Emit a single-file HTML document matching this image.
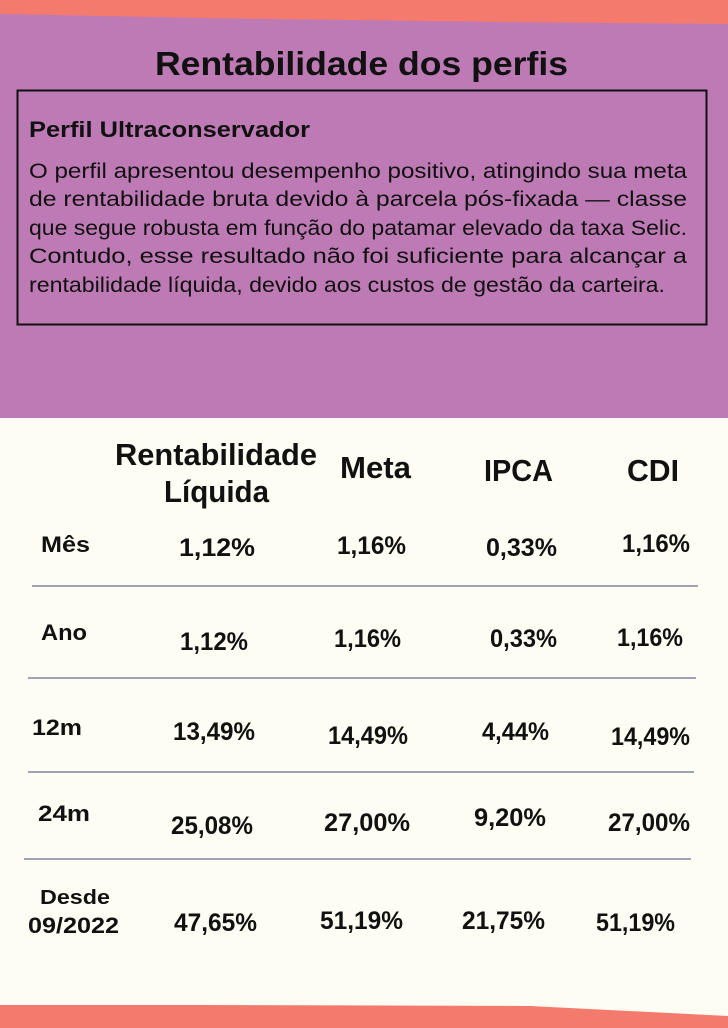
<!DOCTYPE html>
<html><head><meta charset="utf-8"><style>
html,body{margin:0;padding:0;width:728px;height:1028px;overflow:hidden;background:#fdfdf3}
svg{display:block}
text{font-family:"Liberation Sans",sans-serif;fill:#111}
.b{font-weight:bold}
</style></head><body>
<svg width="728" height="1028" viewBox="0 0 728 1028" xmlns="http://www.w3.org/2000/svg">
<rect x="0" y="0" width="728" height="418" fill="#bd7ab4"/>
<polygon points="0,0 728,0 728,24 500,22 200,18 0,14" fill="#f47a6e"/>
<rect x="0" y="418" width="728" height="610" fill="#fdfdf3"/>
<polygon points="0,1023 0,1005 200,1005 530,1006 728,1016 728,1028" fill="#f47a6e"/>
<rect x="0" y="1020" width="728" height="8" fill="#f47a6e"/>

<text class="b" x="155" y="75" font-size="33" textLength="413" lengthAdjust="spacingAndGlyphs">Rentabilidade dos perfis</text>
<rect x="17.5" y="90.5" width="689" height="234" fill="none" stroke="#111" stroke-width="2"/>
<text class="b" x="29" y="137" font-size="22" textLength="281" lengthAdjust="spacingAndGlyphs">Perfil Ultraconservador</text>
<g font-size="21">
<text x="29" y="178" textLength="658" lengthAdjust="spacingAndGlyphs">O perfil apresentou desempenho positivo, atingindo sua meta</text>
<text x="29" y="206" textLength="658" lengthAdjust="spacingAndGlyphs">de rentabilidade bruta devido à parcela pós-fixada — classe</text>
<text x="29" y="235" textLength="658" lengthAdjust="spacingAndGlyphs">que segue robusta em função do patamar elevado da taxa Selic.</text>
<text x="29" y="263" textLength="658" lengthAdjust="spacingAndGlyphs">Contudo, esse resultado não foi suficiente para alcançar a</text>
<text x="29" y="292" textLength="636" lengthAdjust="spacingAndGlyphs">rentabilidade líquida, devido aos custos de gestão da carteira.</text>
</g>

<g font-size="31" font-weight="bold">
<text x="115" y="465" textLength="202" lengthAdjust="spacingAndGlyphs">Rentabilidade</text>
<text x="164" y="502" textLength="105" lengthAdjust="spacingAndGlyphs">Líquida</text>
<text x="340" y="478" textLength="71" lengthAdjust="spacingAndGlyphs">Meta</text>
<text x="484" y="481" textLength="69" lengthAdjust="spacingAndGlyphs">IPCA</text>
<text x="627" y="481" textLength="52" lengthAdjust="spacingAndGlyphs">CDI</text>
</g>

<g font-size="22" font-weight="bold">
<text x="41" y="552" textLength="49" lengthAdjust="spacingAndGlyphs">Mês</text>
<text x="41" y="640" textLength="46" lengthAdjust="spacingAndGlyphs">Ano</text>
<text x="32" y="735" textLength="50" lengthAdjust="spacingAndGlyphs">12m</text>
<text x="38" y="821" textLength="52" lengthAdjust="spacingAndGlyphs">24m</text>
<text x="40" y="904" font-size="20" textLength="70" lengthAdjust="spacingAndGlyphs">Desde</text>
<text x="28" y="933" textLength="91" lengthAdjust="spacingAndGlyphs">09/2022</text>
</g>

<g stroke="#6a6c92" stroke-width="1.3">
<line x1="32" y1="586" x2="698" y2="586"/>
<line x1="28" y1="678" x2="696" y2="678"/>
<line x1="28" y1="772" x2="694" y2="772"/>
<line x1="24" y1="859" x2="691" y2="859"/>
</g>

<g font-size="25" font-weight="bold">
<text x="179" y="556" textLength="76" lengthAdjust="spacingAndGlyphs">1,12%</text>
<text x="337" y="554" textLength="69" lengthAdjust="spacingAndGlyphs">1,16%</text>
<text x="486" y="556" textLength="71" lengthAdjust="spacingAndGlyphs">0,33%</text>
<text x="622" y="552" textLength="68" lengthAdjust="spacingAndGlyphs">1,16%</text>

<text x="180" y="650" textLength="68" lengthAdjust="spacingAndGlyphs">1,12%</text>
<text x="334" y="647" textLength="67" lengthAdjust="spacingAndGlyphs">1,16%</text>
<text x="490" y="647" textLength="67" lengthAdjust="spacingAndGlyphs">0,33%</text>
<text x="617" y="646" textLength="66" lengthAdjust="spacingAndGlyphs">1,16%</text>

<text x="173" y="740" textLength="82" lengthAdjust="spacingAndGlyphs">13,49%</text>
<text x="328" y="744" textLength="80" lengthAdjust="spacingAndGlyphs">14,49%</text>
<text x="482" y="740" textLength="67" lengthAdjust="spacingAndGlyphs">4,44%</text>
<text x="611" y="745" textLength="79" lengthAdjust="spacingAndGlyphs">14,49%</text>

<text x="171" y="834" textLength="82" lengthAdjust="spacingAndGlyphs">25,08%</text>
<text x="324" y="831" textLength="86" lengthAdjust="spacingAndGlyphs">27,00%</text>
<text x="474" y="826" textLength="72" lengthAdjust="spacingAndGlyphs">9,20%</text>
<text x="608" y="831" textLength="82" lengthAdjust="spacingAndGlyphs">27,00%</text>

<text x="174" y="931" textLength="83" lengthAdjust="spacingAndGlyphs">47,65%</text>
<text x="320" y="929" textLength="83" lengthAdjust="spacingAndGlyphs">51,19%</text>
<text x="462" y="929" textLength="83" lengthAdjust="spacingAndGlyphs">21,75%</text>
<text x="596" y="931" textLength="79" lengthAdjust="spacingAndGlyphs">51,19%</text>
</g>
</svg>
</body></html>
